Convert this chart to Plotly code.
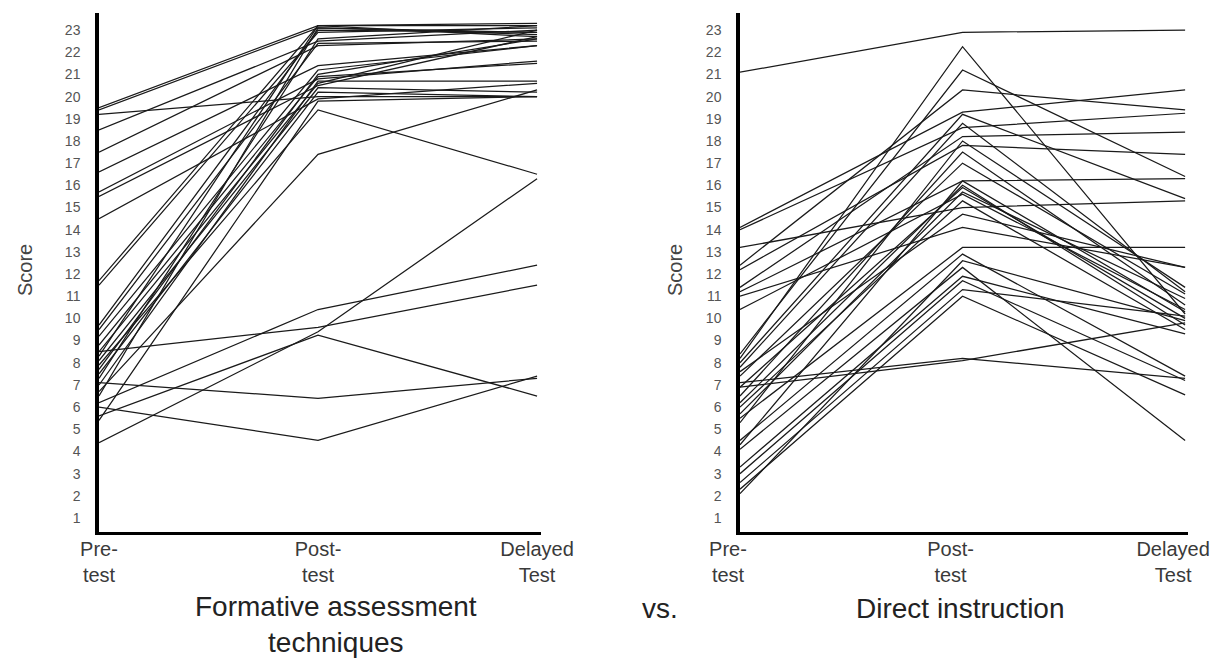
import plotly.graph_objects as go

# ---------------- data ----------------
test_labels = ["Pre-<br>test", "Post-<br>test", "Delayed<br>Test"]
score_ticks = list(range(1, 24))

# Formative assessment techniques (one entry per student)
fa_pre = [19.5, 19.4, 19.2, 18.5, 17.5, 16.6, 15.7, 15.5, 14.5, 11.7, 11.5,
          9.7, 9.5, 9.2, 8.8, 8.5, 8.3, 8.1, 7.9, 7.7, 7.5, 7.3, 7.0, 6.7,
          7.1, 6.0, 5.6, 8.5, 6.2, 4.4, 5.4, 6.5]
fa_post = [23.2, 23.1, 20.0, 22.5, 22.3, 21.4, 20.8, 20.5, 19.9, 23.2, 22.9,
           23.0, 22.4, 21.2, 20.9, 20.6, 23.2, 20.4, 19.4, 21.0, 20.2, 22.6, 20.7, 17.4,
           6.4, 4.5, 9.25, 9.6, 10.4, 9.4, 19.8, 23.1]
fa_delayed = [23.2, 22.9, 20.0, 23.0, 22.6, 22.3, 21.6, 22.7, 20.6, 23.3, 23.1,
              22.9, 22.5, 22.3, 21.5, 23.0, 22.7, 20.2, 16.5, 22.6, 20.0, 23.2, 20.7, 20.3,
              7.3, 7.4, 6.5, 11.5, 12.4, 16.3, 20.0, 22.8]

# Direct instruction (one entry per student)
di_pre = [21.1, 14.1, 14.0, 13.2, 12.4, 12.2, 11.4, 11.2, 11.0, 10.4, 8.4,
          8.2, 8.0, 7.8, 7.4, 7.1, 6.9, 6.9, 6.5, 6.2, 6.0, 5.7, 5.5, 5.3,
          4.5, 4.3, 4.1, 3.3, 3.0, 2.6, 2.3, 2.1, 7.6]
di_post = [22.9, 19.3, 18.6, 15.0, 20.3, 17.8, 18.2, 16.2, 14.1, 15.6, 21.2,
           22.25, 19.2, 18.8, 17.0, 8.2, 8.1, 15.9, 17.5, 16.0, 15.3, 15.7, 13.2, 18.0,
           12.9, 16.2, 12.3, 11.9, 11.7, 11.3, 11.0, 12.6, 14.7]
di_delayed = [23.0, 20.3, 19.25, 15.3, 19.4, 17.4, 18.4, 16.3, 12.3, 10.4, 16.4,
              10.2, 15.4, 11.2, 11.1, 7.3, 9.8, 10.0, 10.6, 9.7, 9.5, 10.9, 13.2, 11.4,
              7.4, 10.3, 4.5, 9.3, 7.2, 10.1, 6.55, 9.9, 12.3]

# ---------------- figure ----------------
W, H = 1215, 664
fig = go.Figure()

groups = [
    (fa_pre, fa_post, fa_delayed, "x", "y"),
    (di_pre, di_post, di_delayed, "x2", "y2"),
]
for pre, post, dly, xa, ya in groups:
    for a, b, c in zip(pre, post, dly):
        fig.add_trace(go.Scatter(
            x=test_labels, y=[a, b, c], mode="lines",
            line=dict(color="#1a1a1a", width=1.25),
            xaxis=xa, yaxis=ya, showlegend=False, hoverinfo="skip",
        ))

font_family = "Liberation Sans, Arial, sans-serif"

def xaxis_cfg(domain, rng_max, anchor, shift):
    return dict(
        domain=domain, type="category", categoryorder="array",
        categoryarray=test_labels, range=[0, rng_max], anchor=anchor,
        showline=True, linecolor="black", linewidth=2.5,
        showgrid=False, zeroline=False, ticks="", automargin=False,
        ticklabelstandoff=-3, ticklabelshift=shift,
        tickfont=dict(family=font_family, size=20, color="#3a3a3a"),
    )

def yaxis_cfg(anchor):
    return dict(
        domain=[1 - 532 / H, 1 - 13 / H], range=[0.37, 23.77], anchor=anchor,
        tickmode="array", tickvals=score_ticks, ticktext=[str(v) for v in score_ticks],
        showline=True, linecolor="black", linewidth=3.5,
        showgrid=False, zeroline=False, ticks="", ticklabelstandoff=12,
        automargin=False,
        tickfont=dict(family=font_family, size=14, color="#555555"),
    )

fig.update_layout(
    width=W, height=H,
    margin=dict(l=0, r=0, t=0, b=0, autoexpand=False),
    paper_bgcolor="white", plot_bgcolor="white",
    xaxis=xaxis_cfg([99 / W, 541 / W], 2.018, "y", 0),
    yaxis=yaxis_cfg("x"),
    xaxis2=xaxis_cfg([740 / W, 1188 / W], 2.013, "y2", -12),
    yaxis2=yaxis_cfg("x2"),
)

ann_font = dict(family=font_family, size=28, color="#222222")
score_font = dict(family=font_family, size=20, color="#444444")
common = dict(xref="paper", yref="paper", showarrow=False,
              xanchor="center", yanchor="middle")
fig.add_annotation(text="Score", x=25 / W, y=1 - 270 / H, textangle=-90,
                   font=score_font, **common)
fig.add_annotation(text="Score", x=675 / W, y=1 - 270 / H, textangle=-90,
                   font=score_font, **common)
fig.add_annotation(text="Formative assessment<br>techniques", x=336 / W, y=1 - 624 / H,
                   align="center", font=ann_font, **common)
fig.add_annotation(text="vs.", x=660 / W, y=1 - 608 / H, font=ann_font, **common)
fig.add_annotation(text="Direct instruction", x=960 / W, y=1 - 608 / H,
                   font=ann_font, **common)

fig.write_html("out.html", config={"displayModeBar": False},
               post_script="document.body.style.margin='0';")
